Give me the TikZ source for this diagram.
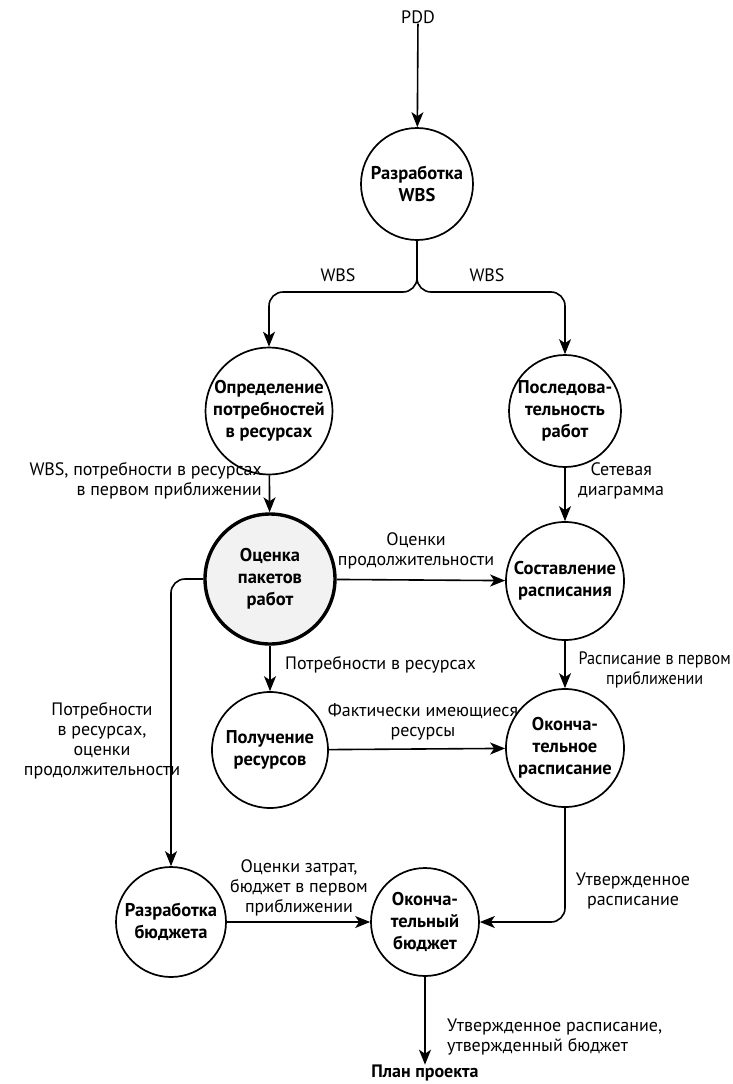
\documentclass[tikz,border=0pt]{standalone}
\usepackage{fontspec}
\setmainfont{PT Sans}
\newfontfamily\narrowlbl{PT Sans}[FakeStretch=0.9]
\usetikzlibrary{arrows.meta}
\begin{document}
\begin{tikzpicture}[x=1pt,y=-1pt,
  proc/.style={circle, draw, line width=1.7pt, minimum size=112pt, inner sep=0pt, align=center,
    font=\fontsize{18.5}{22}\selectfont\bfseries},
  mainproc/.style={proc, minimum size=130pt, line width=3.4pt, fill=gray!10},
  lbl/.style={font=\fontsize{18}{20}\selectfont, inner sep=0pt},
  arr/.style={-{Stealth[length=15pt,width=12pt,inset=4pt]}, line width=1.6pt, rounded corners=14pt},
]
\useasboundingbox (0,0) rectangle (732,1084);
\node[lbl] (pdd) at (418,17) {PDD};
\node[proc] (wbs) at (417,184) {Разработка\\WBS};
\node[proc, minimum size=114pt] (opr) at (269,411) {Определение\\потребностей\\в ресурсах};
\node[proc] (seq) at (565,411) {Последова-\\тельность\\работ};
\node[mainproc] (est) at (270,579) {Оценка\\пакетов\\работ};
\node[proc, minimum size=118pt] (sch) at (565,581) {Составление\\расписания};
\node[proc, minimum size=116pt] (res) at (270,750) {Получение\\ресурсов};
\node[proc, minimum size=118pt] (fsch) at (565,748) {Оконча-\\тельное\\расписание};
\node[proc, minimum size=110pt] (bud) at (171,922) {Разработка\\бюджета};
\node[proc, minimum size=108pt] (fbud) at (425,922) {Оконча-\\тельный\\бюджет};
\node[lbl, font=\fontsize{18}{20}\selectfont\bfseries] (plan) at (425,1073) {План проекта};

\draw[arr] (pdd) -- (wbs);
\draw[arr] (wbs.south) -- (417,292) -| (opr.north);
\draw[arr] (wbs.south) -- (417,292) -| (seq.north);
\node[lbl] (l1) at (338,275) {WBS};
\node[lbl] (l2) at (487,275) {WBS};

\draw[arr] (opr) -- (est);
\node[lbl, align=right, anchor=east] (l3) at (262,481) {WBS, потребности в ресурсах\\в первом приближении};
\draw[arr] (seq) -- (sch);
\node[lbl, align=center, anchor=west] (l4) at (578,481) {Сетевая\\диаграмма};
\draw[arr] (est) -- (sch);
\node[lbl, align=center] (l5) at (416,551) {Оценки\\продолжительности};
\draw[arr] (est) -- (res);
\node[lbl, anchor=west] (l6) at (285,665) {Потребности в ресурсах};
\draw[arr] (sch) -- (fsch);
\node[lbl, font=\fontsize{18}{20}\selectfont\narrowlbl, align=center, anchor=east] (l7) at (731,670) {Расписание в первом\\приближении};
\draw[arr] (res) -- (fsch);
\node[lbl, align=center] (l8) at (423,722) {Фактически имеющиеся\\ресурсы};
\draw[arr] (est.west) -| (bud.north);
\node[lbl, align=center] (l9) at (102,741) {Потребности\\в ресурсах,\\оценки\\продолжительности};
\draw[arr] (bud) -- (fbud);
\node[lbl, align=center] (l10) at (299,888) {Оценки затрат,\\бюджет в первом\\приближении};
\draw[arr] (fsch.south) |- (fbud.east);
\node[lbl, align=center] (l11) at (633,891) {Утвержденное\\расписание};
\draw[arr] (fbud) -- (plan);
\node[lbl, align=left, anchor=west] (l12) at (447,1037) {Утвержденное расписание,\\утвержденный бюджет};
\end{tikzpicture}
\end{document}
